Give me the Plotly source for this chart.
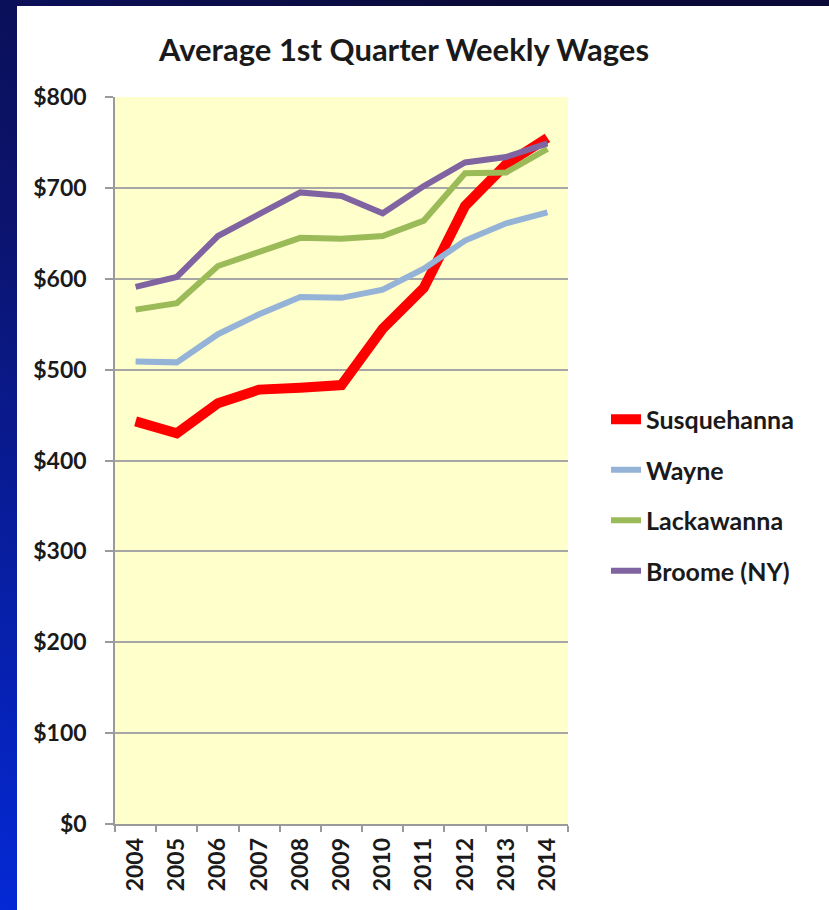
import base64
import plotly.graph_objects as go

years = ["2004", "2005", "2006", "2007", "2008", "2009", "2010", "2011", "2012", "2013", "2014"]
susquehanna = [443, 430, 463, 478, 480, 483, 545, 590, 680, 726, 755]
wayne = [509, 508, 539, 561, 580, 579, 588, 611, 642, 661, 673]
lackawanna = [566, 573, 614, 630, 645, 644, 647, 664, 716, 717, 743]
broome = [591, 602, 647, 671, 695, 691, 672, 702, 728, 734, 749]

series_names = ["Susquehanna", "Wayne", "Lackawanna", "Broome (NY)"]
series_values = [susquehanna, wayne, lackawanna, broome]
series_colors = ["#ff0000", "#95b3d7", "#9bbb59", "#8064a2"]
series_widths = [10, 6, 6, 6]

W, H = 829, 910
L, R, T, B = 115, 261, 97, 86
pw, ph = W - L - R, H - T - B

FONT = "Lato, 'Open Sans', sans-serif"

fig = go.Figure()
for i, (name, vals, col, lw) in enumerate(zip(series_names, series_values, series_colors, series_widths)):
    fig.add_trace(go.Scatter(
        x=years, y=vals, name=name, mode="lines",
        line=dict(color=col, width=lw),
        legendgroup=f"g{i}",
    ))

def px_x(px):
    return (px - L) / pw

def px_y(py):
    return (H - B - py) / ph

svg = (
    '<svg xmlns="http://www.w3.org/2000/svg" width="829" height="910">'
    '<defs><linearGradient id="g" x1="0.6" y1="0" x2="0" y2="1">'
    '<stop offset="0" stop-color="#0a0a38"/>'
    '<stop offset="0.45" stop-color="#0b1470"/>'
    '<stop offset="1" stop-color="#0429d6"/>'
    '</linearGradient></defs>'
    '<rect width="829" height="910" fill="url(#g)"/></svg>'
)
src = "data:image/svg+xml;base64," + base64.b64encode(svg.encode()).decode()

fig.update_layout(
    width=W, height=H,
    margin=dict(l=L, r=R, t=T, b=B),
    paper_bgcolor="#0a0a40",
    plot_bgcolor="#ffffcc",
    showlegend=True,
    title=dict(
        text="<b>Average 1st Quarter Weekly Wages</b>",
        x=404 / W, xanchor="center", y=1 - 50 / H, yanchor="middle",
        font=dict(family=FONT, size=31, color="#1a1a1a"),
    ),
    font=dict(family=FONT, color="#1a1a1a"),
    legend=dict(
        x=px_x(606), xanchor="left", y=px_y(495), yanchor="middle",
        font=dict(family=FONT, size=25, color="#1a1a1a", weight="bold"),
        tracegroupgap=15, bgcolor="rgba(0,0,0,0)",
        traceorder="grouped",
    ),
    images=[dict(
        source=src, xref="paper", yref="paper",
        x=px_x(0), y=px_y(0), sizex=W / pw, sizey=H / ph,
        xanchor="left", yanchor="top", sizing="stretch", layer="below",
    )],
    shapes=[
        dict(type="rect", xref="paper", yref="paper",
             x0=px_x(17), x1=px_x(W + 5), y0=px_y(H + 5), y1=px_y(6),
             fillcolor="white", line=dict(width=0), layer="below"),
        dict(type="rect", xref="paper", yref="paper",
             x0=0, x1=1, y0=0, y1=1,
             fillcolor="#ffffcc", line=dict(width=0), layer="below"),
    ],
    xaxis=dict(
        type="category", showgrid=False,
        showline=True, linecolor="#9a9a9a", linewidth=1.5,
        ticks="outside", tickson="boundaries", ticklen=6, tickcolor="#9a9a9a", tickwidth=1.5,
        tickangle=-90, ticklabelstandoff=3,
        tickfont=dict(family=FONT, size=23, color="#1a1a1a", weight="bold"),
        range=[-0.5, 10.5],
    ),
    yaxis=dict(
        range=[0, 800], dtick=100, tickprefix="$",
        showgrid=True, gridcolor="#a6a6a6", gridwidth=1.5,
        zeroline=False,
        showline=True, linecolor="#9a9a9a", linewidth=1.5,
        ticks="outside", ticklen=8, tickcolor="#9a9a9a", tickwidth=1.5,
        ticklabelstandoff=14,
        tickfont=dict(family=FONT, size=23, color="#1a1a1a", weight="bold"),
    ),
)

fig.write_html(
    "out.html",
    config={"displayModeBar": False},
    post_script="document.body.style.margin='0';document.body.style.background='#0a0a40';document.body.style.overflow='hidden';",
)
